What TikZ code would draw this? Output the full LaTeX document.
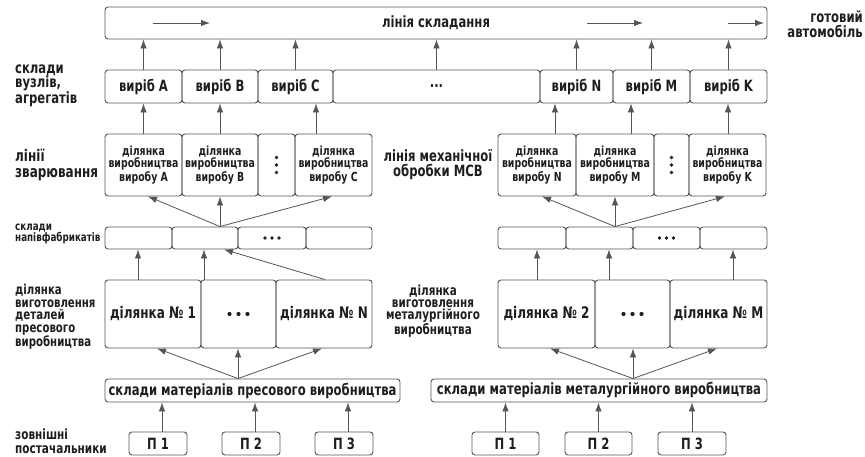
\documentclass[tikz,border=0pt]{standalone}
\usepackage{fontspec}
\setmainfont{DejaVu Sans}[FakeStretch=0.75]
\usetikzlibrary{arrows.meta}
\definecolor{ln}{HTML}{555555}
\definecolor{tx}{HTML}{1E1E1E}
\begin{document}
\begin{tikzpicture}[x=1pt,y=-1pt,
  bx/.style={draw=ln, line width=0.9pt, rounded corners=3pt, inner sep=0pt, align=center, text=tx,
    font=\bfseries\fontsize{15.5}{14}\selectfont},
  sm/.style={font=\bfseries\fontsize{12.5}{11.5}\selectfont},
  big/.style={font=\bfseries\fontsize{16}{15}\selectfont},
  arr/.style={draw=ln, line width=0.8pt, -{Latex[length=9pt,width=6.5pt]}},
  lbl/.style={inner sep=0pt, align=left, text=tx, anchor=west},
  dotc/.style={fill=tx}
]
\useasboundingbox (0,0) rectangle (865,457);

% ---------- top: assembly line ----------
\node[bx, minimum width=662pt, minimum height=32pt] (T) at (436,23) {лінія складання};
\coordinate (a1s) at (153,23); \coordinate (a1e) at (210,23);
\coordinate (a2s) at (587,23); \coordinate (a2e) at (643,23);
\coordinate (a3s) at (728,23); \coordinate (a3e) at (764,23);
\draw[arr] (a1s) -- (a1e);
\draw[arr] (a2s) -- (a2e);
\draw[arr] (a3s) -- (a3e);
\node[inner sep=0pt, align=right, text=tx, anchor=east, font=\bfseries\fontsize{15.5}{15}\selectfont] (gotovyi) at (863,24.5) {готовий\\автомобіль};

% ---------- row 2: warehouses of units ----------
\node[bx, minimum width=77pt, minimum height=33pt] (vA) at (143.5,86.5) {виріб A};
\node[bx, minimum width=76pt, minimum height=33pt] (vB) at (220,86.5) {виріб B};
\node[bx, minimum width=75pt, minimum height=33pt] (vC) at (295.5,86.5) {виріб C};
\node[bx, minimum width=207pt, minimum height=33pt] (vD) at (436.5,86.5) {...};
\node[bx, minimum width=73pt, minimum height=33pt] (vN) at (576.5,86.5) {виріб N};
\node[bx, minimum width=77pt, minimum height=33pt] (vM) at (651.5,86.5) {виріб M};
\node[bx, minimum width=77pt, minimum height=33pt] (vK) at (728.5,86.5) {виріб K};
\foreach \n in {vA,vB,vC,vD,vN,vM,vK} \draw[arr] (\n.north) -- (\n.north |- T.south);

\node[lbl, font=\bfseries\fontsize{15.5}{14}\selectfont] (l1) at (15,86) {склади\\вузлів,\\агрегатів};

% ---------- row 3: welding lines ----------
\node[bx, sm, minimum width=77pt, minimum height=62pt] (wA) at (143.5,165) {ділянка\\виробництва\\виробу A};
\node[bx, sm, minimum width=76pt, minimum height=62pt] (wB) at (220,165) {ділянка\\виробництва\\виробу B};
\node[bx, minimum width=37pt, minimum height=62pt] (wd1) at (276.5,165) {};
\node[bx, sm, minimum width=77pt, minimum height=62pt] (wC) at (333.5,165) {ділянка\\виробництва\\виробу C};
\node[bx, sm, minimum width=78pt, minimum height=62pt] (wN) at (537,165) {ділянка\\виробництва\\виробу N};
\node[bx, sm, minimum width=78pt, minimum height=62pt] (wM) at (615,165) {ділянка\\виробництва\\виробу M};
\node[bx, minimum width=35pt, minimum height=62pt] (wd2) at (671.5,165) {};
\node[bx, sm, minimum width=77pt, minimum height=62pt] (wK) at (727.5,165) {ділянка\\виробництва\\виробу K};
\foreach \n in {wd1,wd2} {
  \fill[dotc] ([yshift=-7.5pt]\n.center) circle (1.9pt);
  \fill[dotc] (\n.center) circle (1.9pt);
  \fill[dotc] ([yshift=7.5pt]\n.center) circle (1.9pt);
}
\coordinate (x316) at (316,0); \coordinate (x555) at (555,0);
\coordinate (x631) at (631,0); \coordinate (x728) at (728,0);
\draw[arr] (wA.north) -- (wA.north |- vA.south);
\draw[arr] (wB.north) -- (wB.north |- vB.south);
\draw[arr] (wC.north -| x316) -- (vC.south -| x316);
\draw[arr] (wN.north -| x555) -- (vN.south -| x555);
\draw[arr] (wM.north -| x631) -- (vM.south -| x631);
\draw[arr] (wK.north -| x728) -- (vK.south -| x728);

\node[lbl, font=\bfseries\fontsize{16}{16}\selectfont] (l2) at (15,165) {лінії\\зварювання};
\node[inner sep=0pt, align=center, text=tx, font=\bfseries\fontsize{15.5}{15}\selectfont] (l3) at (438,165) {лінія механічної\\обробки МСВ};

% ---------- row 4: semi-finished warehouses ----------
\node[bx, minimum width=67pt, minimum height=22pt] (sA) at (138.5,238) {};
\node[bx, minimum width=66pt, minimum height=22pt] (sB) at (205,238) {};
\node[bx, minimum width=68pt, minimum height=22pt] (sC) at (272,238) {};
\node[bx, minimum width=66pt, minimum height=22pt] (sD) at (339,238) {};
\node[bx, minimum width=68pt, minimum height=22pt] (sN) at (532,238) {};
\node[bx, minimum width=67pt, minimum height=22pt] (sM) at (599.5,238) {};
\node[bx, minimum width=67pt, minimum height=22pt] (sO) at (666.5,238) {};
\node[bx, minimum width=67pt, minimum height=22pt] (sP) at (733.5,238) {};
\foreach \n in {sC,sO} {
  \fill[dotc] ([xshift=-7pt]\n.center) circle (1.8pt);
  \fill[dotc] (\n.center) circle (1.8pt);
  \fill[dotc] ([xshift=7pt]\n.center) circle (1.8pt);
}
\coordinate (x148) at (148,0); \coordinate (x220) at (220,0); \coordinate (x332) at (332,0);
\coordinate (x542) at (542,0); \coordinate (x615) at (615,0); \coordinate (x725) at (725,0);
\draw[arr] (sB.north -| x220) -- (wA.south -| x148);
\draw[arr] (sB.north -| x220) -- (wB.south -| x220);
\draw[arr] (sB.north -| x220) -- (wC.south -| x332);
\draw[arr] (sM.north -| x615) -- (wN.south -| x542);
\draw[arr] (sM.north -| x615) -- (wM.south -| x615);
\draw[arr] (sM.north -| x615) -- (wK.south -| x725);

\node[lbl, font=\bfseries\fontsize{11.7}{11}\selectfont] (l4) at (15,233.5) {склади\\напівфабрикатів};

% ---------- row 5: press / metallurgy sections ----------
\node[bx, big, minimum width=96pt, minimum height=68pt] (pA) at (153,314) {ділянка № 1};
\node[bx, minimum width=75pt, minimum height=68pt] (pB) at (238.5,314) {};
\node[bx, big, minimum width=96pt, minimum height=68pt] (pC) at (324,314) {ділянка № N};
\node[bx, big, minimum width=97pt, minimum height=68pt] (pD) at (546.5,314) {ділянка № 2};
\node[bx, minimum width=75pt, minimum height=68pt] (pE) at (632.5,314) {};
\node[bx, big, minimum width=97pt, minimum height=68pt] (pF) at (718.5,314) {ділянка № M};
\foreach \n in {pB,pE} {
  \fill[dotc] ([xshift=-9pt]\n.center) circle (2.1pt);
  \fill[dotc] (\n.center) circle (2.1pt);
  \fill[dotc] ([xshift=9pt]\n.center) circle (2.1pt);
}
\coordinate (x138) at (138,0); \coordinate (x204) at (204,0);
\coordinate (x325) at (325,0); \coordinate (x224) at (224,0);
\coordinate (x537) at (537,0); \coordinate (x609) at (609,0); \coordinate (x733) at (733,0);
\draw[arr] (pA.north -| x138) -- (sA.south -| x138);
\draw[arr] (pB.north -| x204) -- (sB.south -| x204);
\draw[arr] (pC.north -| x325) -- (sB.south -| x224);
\draw[arr] (pD.north -| x537) -- (sN.south -| x537);
\draw[arr] (pE.north -| x609) -- (sM.south -| x609);
\draw[arr] (pF.north -| x733) -- (sP.south -| x733);

\node[lbl, font=\bfseries\fontsize{13.6}{12.5}\selectfont] (l5) at (15,317) {ділянка\\виготовлення\\деталей\\пресового\\виробництва};
\node[inner sep=0pt, align=center, text=tx, font=\bfseries\fontsize{13.9}{12.3}\selectfont] (l6) at (433,311) {ділянка\\виготовлення\\металургійного\\виробництва};

% ---------- row 6: material warehouses ----------
\node[bx, minimum width=295pt, minimum height=23pt] (mL) at (252.5,390.5) {склади матеріалів пресового виробництва};
\node[bx, minimum width=336pt, minimum height=23pt] (mR) at (599,390.5) {склади матеріалів металургійного виробництва};
\coordinate (x157) at (157,0); \coordinate (x238) at (238,0); \coordinate (x322) at (322,0);
\coordinate (x550) at (550,0); \coordinate (x633) at (633,0); \coordinate (x717) at (717,0);
\draw[arr] (mL.north -| x238) -- (pA.south -| x157);
\draw[arr] (mL.north -| x238) -- (pB.south -| x238);
\draw[arr] (mL.north -| x238) -- (pC.south -| x322);
\draw[arr] (mR.north -| x633) -- (pD.south -| x550);
\draw[arr] (mR.north -| x633) -- (pE.south -| x633);
\draw[arr] (mR.north -| x633) -- (pF.south -| x717);

% ---------- row 7: suppliers ----------
\node[bx, minimum width=58pt, minimum height=23pt] (p1) at (158,443.5) {П 1};
\node[bx, minimum width=58pt, minimum height=23pt] (p2) at (251,443.5) {П 2};
\node[bx, minimum width=58pt, minimum height=23pt] (p3) at (344,443.5) {П 3};
\node[bx, minimum width=67pt, minimum height=23pt] (q1) at (505.5,443.5) {П 1};
\node[bx, minimum width=67pt, minimum height=23pt] (q2) at (598.5,443.5) {П 2};
\node[bx, minimum width=68pt, minimum height=23pt] (q3) at (692,443.5) {П 3};
\coordinate (x162) at (162,0); \coordinate (x255) at (255,0); \coordinate (x348) at (348,0);
\draw[arr] (p1.north -| x162) -- (mL.south -| x162);
\draw[arr] (p2.north -| x255) -- (mL.south -| x255);
\draw[arr] (p3.north -| x348) -- (mL.south -| x348);
\draw[arr] (q1.north) -- (q1.north |- mR.south);
\draw[arr] (q2.north) -- (q2.north |- mR.south);
\draw[arr] (q3.north) -- (q3.north |- mR.south);

\node[lbl, font=\bfseries\fontsize{14}{13.5}\selectfont] (l7) at (15,441.5) {зовнішні\\постачальники};
\end{tikzpicture}
\end{document}
